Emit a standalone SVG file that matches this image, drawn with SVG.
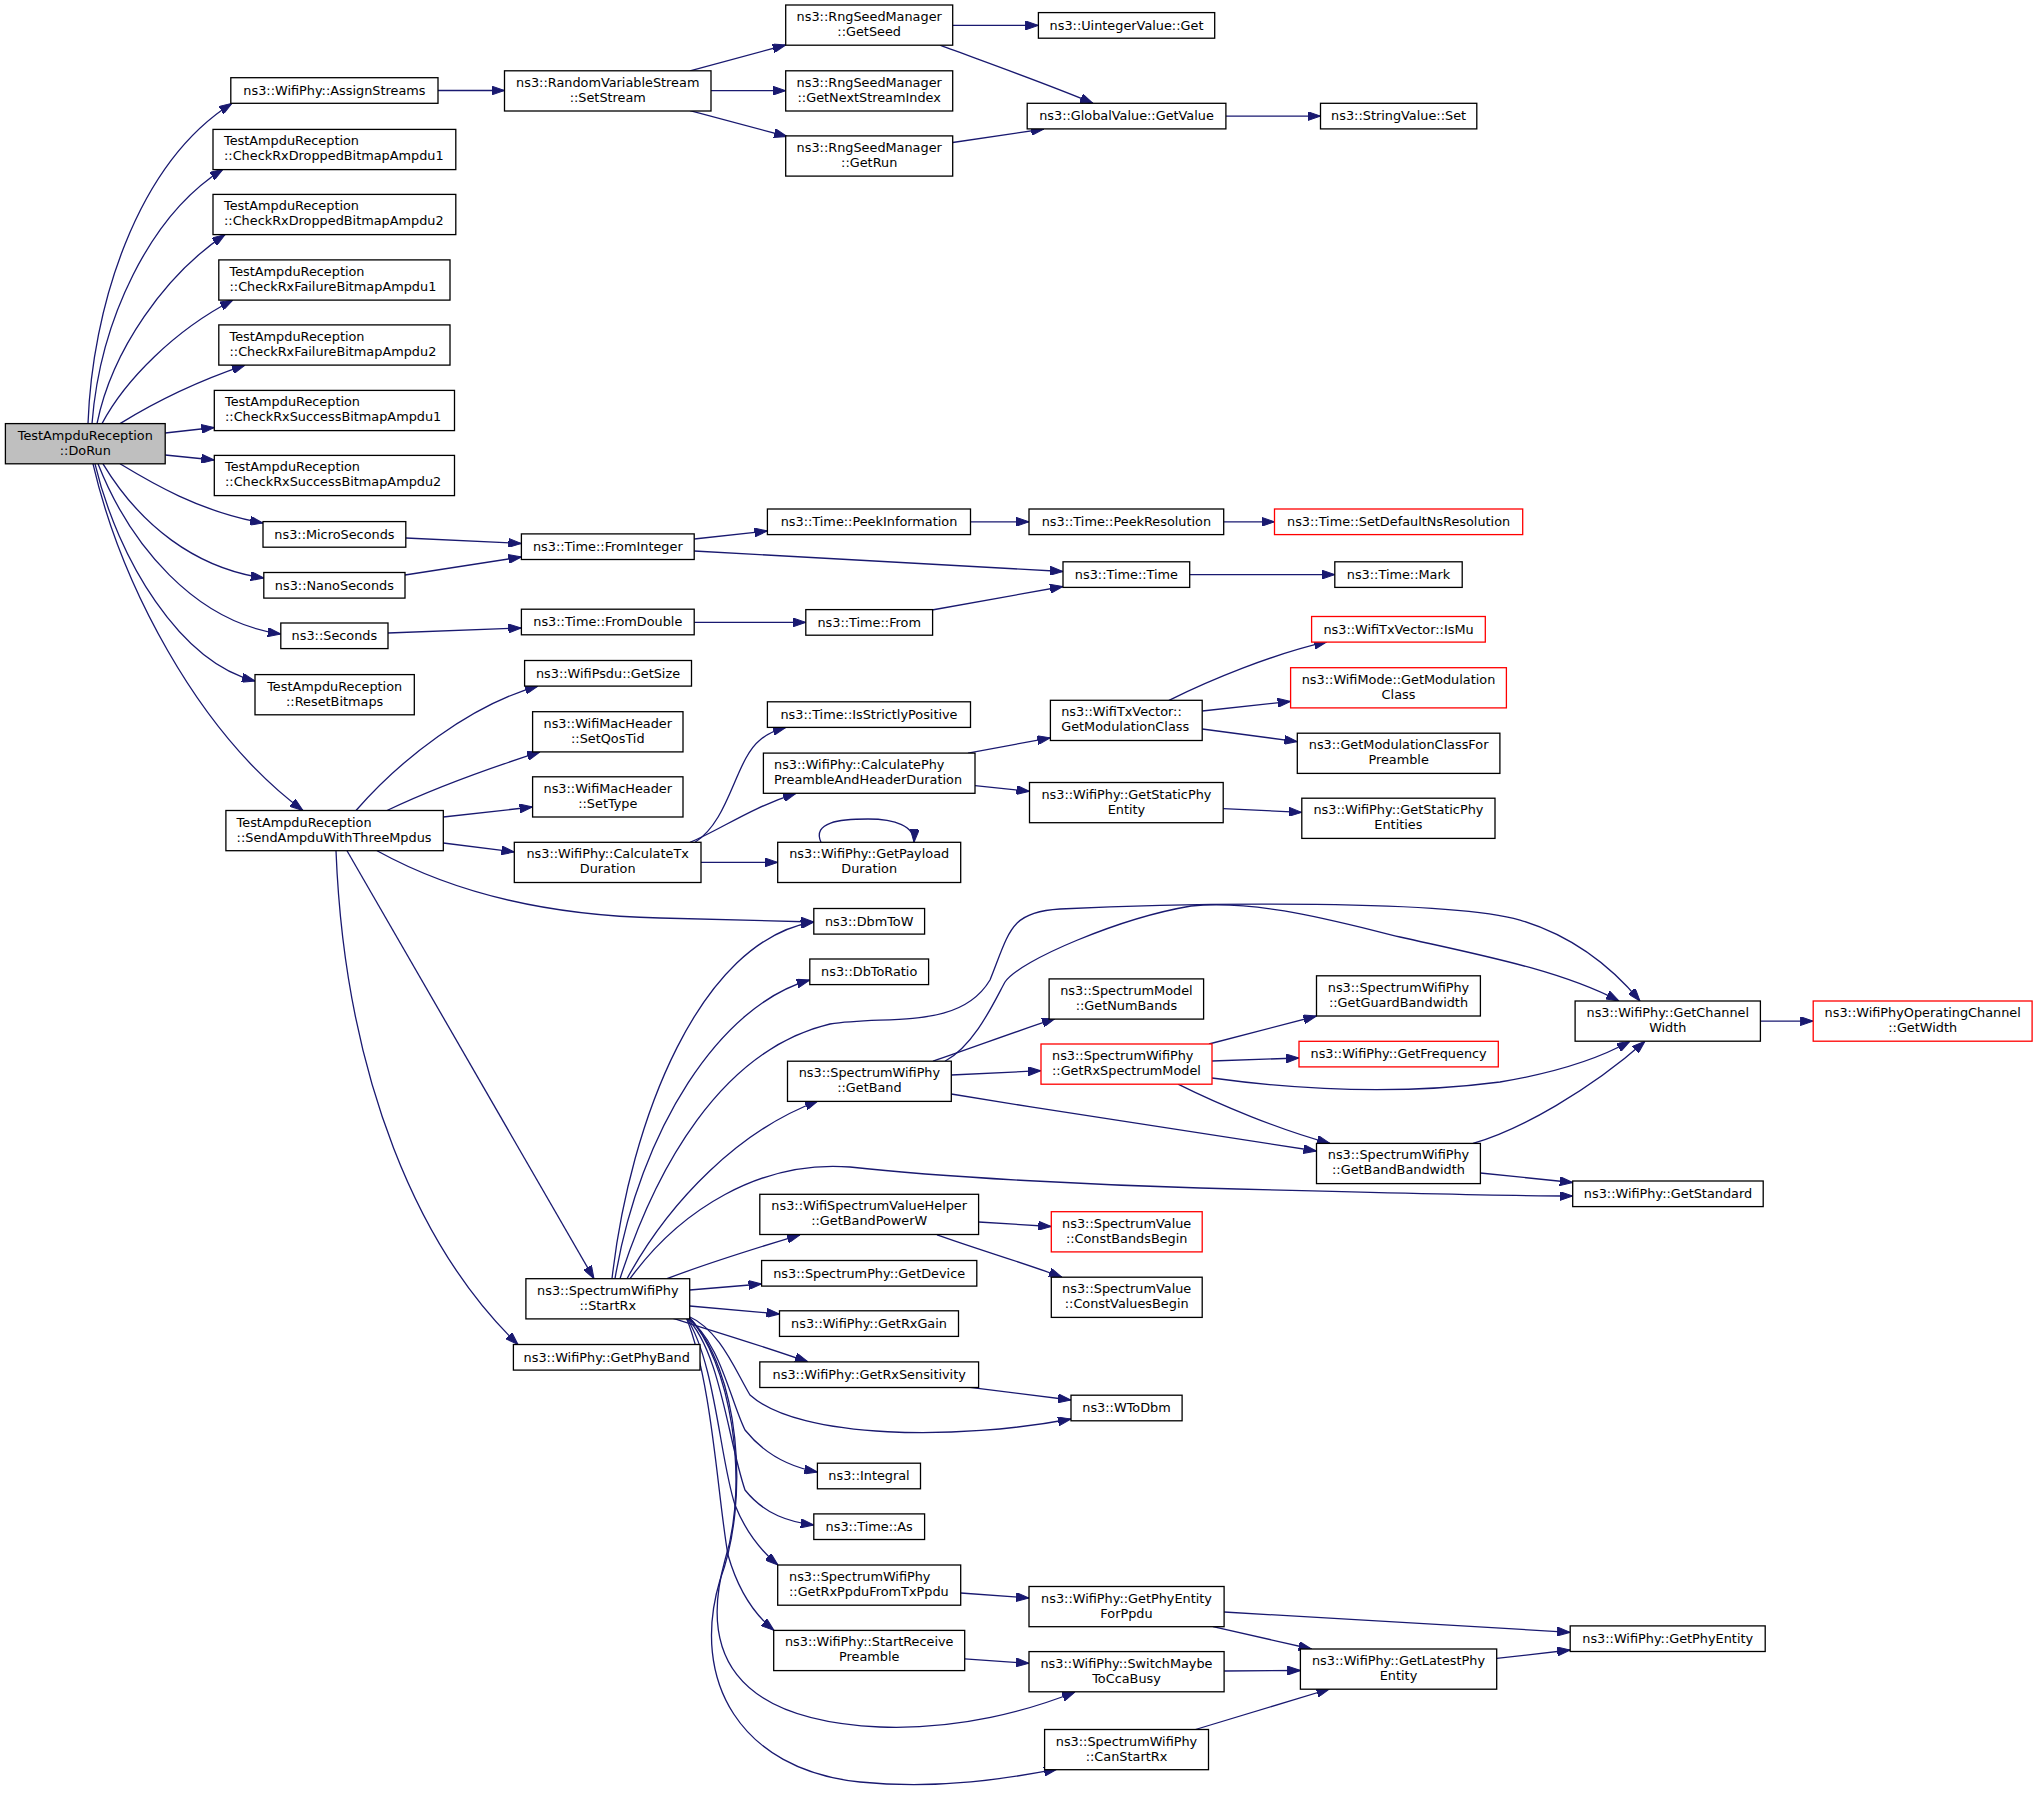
<svg xmlns="http://www.w3.org/2000/svg" width="2037" height="1793" viewBox="0 0 2037 1793">
<defs>
<marker id="a" markerUnits="userSpaceOnUse" viewBox="0 0 13 9" refX="13" refY="4.5" markerWidth="13" markerHeight="9" orient="auto">
<path d="M0,0 L13,4.5 L0,9 z" fill="#191970" stroke="#191970" stroke-width="1"/>
</marker>
<style>
.n rect{fill:#ffffff;stroke:#000000;stroke-width:1.3}
.r rect{stroke:#ff0000}
.g rect{fill:#bfbfbf}
text{font-family:"DejaVu Sans","Liberation Sans",sans-serif;font-size:12.85px;fill:#000000}
.c{text-anchor:middle}
#edges path{fill:none;stroke:#191970;stroke-width:1.3;marker-end:url(#a)}
</style>
</defs>
<rect x="0" y="0" width="2037" height="1793" fill="#ffffff"/>
<g id="edges">
<path d="M88,423.6 C92,310 135,165 232,103.3"/>
<path d="M92,423.6 C100,320 150,215 223,169.2"/>
<path d="M97,423.6 C112,350 165,275 225,234.6"/>
<path d="M102,423.6 C125,380 175,330 233,300"/>
<path d="M120,423.6 C150,405 195,382 245,365.1"/>
<path d="M165.2,433 L214.3,427.5"/>
<path d="M165.2,455 L214.3,460"/>
<path d="M120,463.8 C150,482 200,512 263,523"/>
<path d="M103,463.8 C140,525 195,568 263.8,578"/>
<path d="M98,463.8 C130,545 195,622 280.8,634"/>
<path d="M95,463.8 C118,560 180,662 255,681"/>
<path d="M93,463.8 C120,580 195,730 303,810.5"/>
<path d="M438,90.5 L504.5,90.5"/>
<path d="M690,70.8 L785.7,45"/>
<path d="M711,90.7 L785.7,90.7"/>
<path d="M690,110.6 L787,136.5"/>
<path d="M952.7,25.4 L1038.4,25.4"/>
<path d="M940,45.2 C985,62 1050,85 1093,103.3"/>
<path d="M952.7,142.5 L1044,129"/>
<path d="M1225.9,116.1 L1320.5,116.1"/>
<path d="M405.8,538 L521.4,543.5"/>
<path d="M405,575 L521.4,557"/>
<path d="M388,633 L521.4,628"/>
<path d="M694.2,539 L767.4,531"/>
<path d="M694.2,551 L1063,571.5"/>
<path d="M970.5,521.8 L1029,521.8"/>
<path d="M1223.7,521.8 L1274.5,521.8"/>
<path d="M1189.7,574.6 L1334.8,574.6"/>
<path d="M694.2,622.4 L805.8,622.4"/>
<path d="M932,610 L1063,586.5"/>
<path d="M356,810.5 C400,760 470,705 538,686.1"/>
<path d="M387,810.5 C430,790 490,768 540,751.9"/>
<path d="M443.3,817 L532.6,807"/>
<path d="M443.3,843 L514.3,852"/>
<path d="M377,850.7 C430,880 520,915 660,918 C720,920 780,921 813.8,922"/>
<path d="M347,850.7 L594,1278.7"/>
<path d="M336,850.7 C345,1080 420,1250 518,1344.5"/>
<path d="M695,842.3 C730,820 735,760 760,740 C768,733 776,730 786,727.4"/>
<path d="M690,842.3 C720,830 750,808 796,793.3"/>
<path d="M701,862.4 L777.7,862.4"/>
<path d="M821,842.3 C812,822 840,819 868,819 C895,819 915,826 914,842.3"/>
<path d="M968,753.1 L1050.4,737.8"/>
<path d="M975,785.6 L1029.5,791.3"/>
<path d="M1169,700.3 C1210,680 1270,655 1327,641.7"/>
<path d="M1202.2,711 L1290.6,701.4"/>
<path d="M1202.2,729 L1297.3,741.6"/>
<path d="M1223.2,808.6 L1301.8,812.4"/>
<path d="M612,1278.7 C630,1120 700,940 813.8,922"/>
<path d="M615,1278.7 C640,1130 720,1005 809.8,980"/>
<path d="M620,1278.7 C655,1170 720,1050 830,1024 C890,1015 960,1030 990,980 C1010,930 1010,912 1060,909 C1200,902 1450,900 1520,920 C1570,935 1610,965 1640,1001"/>
<path d="M945,1061.2 C975,1045 995,1000 1005,982 C1020,960 1120,918 1191,906 C1260,900 1330,920 1400,937 C1480,955 1560,970 1619,1001"/>
<path d="M627,1278.7 C670,1200 740,1130 818,1101"/>
<path d="M630,1278.7 C680,1210 760,1160 850,1167 C950,1178 1100,1185 1200,1188 C1350,1192 1500,1196 1572.7,1196"/>
<path d="M667,1278.7 C710,1262 760,1247 800,1234.8"/>
<path d="M689.7,1290 L761.6,1284"/>
<path d="M689.7,1306 L779.5,1314"/>
<path d="M673,1318.4 C710,1330 760,1345 808,1361.9"/>
<path d="M688,1316 C720,1330 735,1370 750,1395 C800,1440 960,1440 1071,1419"/>
<path d="M686,1317 C720,1340 730,1400 745,1430 C765,1455 790,1467 817.4,1472"/>
<path d="M686,1317 C720,1350 728,1440 745,1490 C765,1515 790,1522 813.8,1525"/>
<path d="M686,1317 C715,1360 720,1460 735,1505 C745,1530 760,1550 778,1565"/>
<path d="M686,1317 C712,1380 718,1500 728,1555 C738,1590 755,1615 774,1630.4"/>
<path d="M688,1316 C730,1360 750,1480 725,1560 C700,1650 730,1720 880,1727 C960,1730 1030,1710 1075,1692"/>
<path d="M688,1316 C740,1370 750,1500 720,1580 C690,1680 740,1770 860,1782 C940,1790 1010,1778 1057,1769.2"/>
<path d="M933,1061.2 C980,1045 1020,1030 1055,1018.7"/>
<path d="M951.3,1075 L1041,1070.7"/>
<path d="M951.3,1094 C1080,1115 1220,1137 1316.5,1151"/>
<path d="M1209,1044 L1316.5,1016"/>
<path d="M1212,1061 L1299,1058"/>
<path d="M1212,1078 C1300,1090 1400,1095 1500,1082 C1560,1072 1600,1058 1630,1041.3"/>
<path d="M1178,1084.1 C1220,1105 1280,1130 1330,1143.4"/>
<path d="M1473,1143.4 C1520,1130 1590,1090 1645,1041.3"/>
<path d="M1480.4,1173 L1572.7,1182.5"/>
<path d="M1760.4,1021.1 L1813.2,1021.1"/>
<path d="M978.6,1222 L1051.3,1226.5"/>
<path d="M937,1234.8 C980,1250 1030,1265 1062,1277.2"/>
<path d="M968,1387.2 L1071,1400"/>
<path d="M960.7,1593 L1029,1598"/>
<path d="M1224.1,1612 L1570.2,1632.3"/>
<path d="M1213,1626.6 L1311.6,1649"/>
<path d="M964.7,1658.8 L1029,1663.3"/>
<path d="M1224.1,1671 L1300.4,1670.5"/>
<path d="M1195.5,1729.5 L1329.5,1689"/>
<path d="M1496.7,1658.4 L1570.2,1650"/>
</g>
<g id="DoRun" class="n g"><rect x="5.4" y="423.6" width="159.8" height="40.2"/><text class="c" x="85.3" y="439.6">TestAmpduReception</text><text class="c" x="85.3" y="454.6">::DoRun</text></g>
<g id="AssignStreams" class="n"><rect x="230.8" y="77.7" width="207.2" height="25.6"/><text class="c" x="334.4" y="94.7">ns3::WifiPhy::AssignStreams</text></g>
<g id="CheckRxDropped1" class="n"><rect x="213" y="129.4" width="242.8" height="40.2"/><text x="224" y="145.4">TestAmpduReception</text><text x="224" y="160.4">::CheckRxDroppedBitmapAmpdu1</text></g>
<g id="CheckRxDropped2" class="n"><rect x="213" y="194.4" width="242.8" height="40.2"/><text x="224" y="210.4">TestAmpduReception</text><text x="224" y="225.4">::CheckRxDroppedBitmapAmpdu2</text></g>
<g id="CheckRxFailure1" class="n"><rect x="218.8" y="259.9" width="231.2" height="40.2"/><text x="229.5" y="275.9">TestAmpduReception</text><text x="229.5" y="290.9">::CheckRxFailureBitmapAmpdu1</text></g>
<g id="CheckRxFailure2" class="n"><rect x="218.8" y="324.9" width="231.2" height="40.2"/><text x="229.5" y="340.9">TestAmpduReception</text><text x="229.5" y="355.9">::CheckRxFailureBitmapAmpdu2</text></g>
<g id="CheckRxSuccess1" class="n"><rect x="214.3" y="390.4" width="240.2" height="40.2"/><text x="225" y="406.4">TestAmpduReception</text><text x="225" y="421.4">::CheckRxSuccessBitmapAmpdu1</text></g>
<g id="CheckRxSuccess2" class="n"><rect x="214.3" y="455.4" width="240.2" height="40.2"/><text x="225" y="471.4">TestAmpduReception</text><text x="225" y="486.4">::CheckRxSuccessBitmapAmpdu2</text></g>
<g id="MicroSeconds" class="n"><rect x="263" y="521.6" width="142.8" height="25.6"/><text class="c" x="334.4" y="538.6">ns3::MicroSeconds</text></g>
<g id="NanoSeconds" class="n"><rect x="263.8" y="572.5" width="141.2" height="25.6"/><text class="c" x="334.4" y="589.5">ns3::NanoSeconds</text></g>
<g id="Seconds" class="n"><rect x="280.8" y="623" width="107.2" height="25.6"/><text class="c" x="334.4" y="640">ns3::Seconds</text></g>
<g id="ResetBitmaps" class="n"><rect x="255" y="674.6" width="159.3" height="40.2"/><text class="c" x="334.65" y="690.6">TestAmpduReception</text><text class="c" x="334.65" y="705.6">::ResetBitmaps</text></g>
<g id="SendAmpdu" class="n"><rect x="225.9" y="810.5" width="217.4" height="40.2"/><text x="236.6" y="826.5">TestAmpduReception</text><text x="236.6" y="841.5">::SendAmpduWithThreeMpdus</text></g>
<g id="SetStream" class="n"><rect x="504.5" y="70.8" width="206.5" height="40.2"/><text class="c" x="607.75" y="86.8">ns3::RandomVariableStream</text><text class="c" x="607.75" y="101.8">::SetStream</text></g>
<g id="FromInteger" class="n"><rect x="521.4" y="533.9" width="172.8" height="25.6"/><text class="c" x="607.8" y="550.9">ns3::Time::FromInteger</text></g>
<g id="FromDouble" class="n"><rect x="521.4" y="609.2" width="172.8" height="25.6"/><text class="c" x="607.8" y="626.2">ns3::Time::FromDouble</text></g>
<g id="GetSize" class="n"><rect x="524.6" y="660.5" width="166.9" height="25.6"/><text class="c" x="608" y="677.5">ns3::WifiPsdu::GetSize</text></g>
<g id="SetQosTid" class="n"><rect x="532.6" y="711.7" width="150.4" height="40.2"/><text class="c" x="607.8" y="727.7">ns3::WifiMacHeader</text><text class="c" x="607.8" y="742.7">::SetQosTid</text></g>
<g id="SetType" class="n"><rect x="532.6" y="776.8" width="150.4" height="40.2"/><text class="c" x="607.8" y="792.8">ns3::WifiMacHeader</text><text class="c" x="607.8" y="807.8">::SetType</text></g>
<g id="CalculateTx" class="n"><rect x="514.3" y="842.3" width="186.7" height="40.2"/><text class="c" x="607.65" y="858.3">ns3::WifiPhy::CalculateTx</text><text class="c" x="607.65" y="873.3">Duration</text></g>
<g id="StartRx" class="n"><rect x="525.9" y="1278.7" width="163.8" height="40.2"/><text class="c" x="607.8" y="1294.7">ns3::SpectrumWifiPhy</text><text class="c" x="607.8" y="1309.7">::StartRx</text></g>
<g id="GetPhyBand" class="n"><rect x="513.4" y="1344.5" width="186.6" height="25.6"/><text class="c" x="606.7" y="1361.5">ns3::WifiPhy::GetPhyBand</text></g>
<g id="GetSeed" class="n"><rect x="785.7" y="5" width="167" height="40.2"/><text class="c" x="869.2" y="21">ns3::RngSeedManager</text><text class="c" x="869.2" y="36">::GetSeed</text></g>
<g id="GetNextStreamIndex" class="n"><rect x="785.7" y="70.8" width="167" height="40.2"/><text class="c" x="869.2" y="86.8">ns3::RngSeedManager</text><text class="c" x="869.2" y="101.8">::GetNextStreamIndex</text></g>
<g id="GetRun" class="n"><rect x="785.7" y="135.9" width="167" height="40.2"/><text class="c" x="869.2" y="151.9">ns3::RngSeedManager</text><text class="c" x="869.2" y="166.9">::GetRun</text></g>
<g id="PeekInformation" class="n"><rect x="767.4" y="509" width="203.1" height="25.6"/><text class="c" x="869" y="526">ns3::Time::PeekInformation</text></g>
<g id="TimeFrom" class="n"><rect x="805.8" y="609.6" width="126.8" height="25.6"/><text class="c" x="869.2" y="626.6">ns3::Time::From</text></g>
<g id="IsStrictlyPositive" class="n"><rect x="767.4" y="701.8" width="203.1" height="25.6"/><text class="c" x="869" y="718.8">ns3::Time::IsStrictlyPositive</text></g>
<g id="CalculatePhy" class="n"><rect x="763.4" y="753.1" width="211.6" height="40.2"/><text x="774" y="769.1">ns3::WifiPhy::CalculatePhy</text><text x="774" y="784.1">PreambleAndHeaderDuration</text></g>
<g id="GetPayload" class="n"><rect x="777.7" y="842.3" width="183" height="40.2"/><text class="c" x="869.2" y="858.3">ns3::WifiPhy::GetPayload</text><text class="c" x="869.2" y="873.3">Duration</text></g>
<g id="DbmToW" class="n"><rect x="813.8" y="908.5" width="110.8" height="25.6"/><text class="c" x="869.2" y="925.5">ns3::DbmToW</text></g>
<g id="DbToRatio" class="n"><rect x="809.8" y="959" width="118.8" height="25.6"/><text class="c" x="869.2" y="976">ns3::DbToRatio</text></g>
<g id="GetBand" class="n"><rect x="787.5" y="1061.2" width="163.8" height="40.2"/><text class="c" x="869.4" y="1077.2">ns3::SpectrumWifiPhy</text><text class="c" x="869.4" y="1092.2">::GetBand</text></g>
<g id="GetBandPowerW" class="n"><rect x="759.8" y="1194.3" width="218.8" height="40.2"/><text class="c" x="869.2" y="1210.3">ns3::WifiSpectrumValueHelper</text><text class="c" x="869.2" y="1225.3">::GetBandPowerW</text></g>
<g id="GetDevice" class="n"><rect x="761.6" y="1260.5" width="215.2" height="25.6"/><text class="c" x="869.2" y="1277.5">ns3::SpectrumPhy::GetDevice</text></g>
<g id="GetRxGain" class="n"><rect x="779.5" y="1310.8" width="179" height="25.6"/><text class="c" x="869" y="1327.8">ns3::WifiPhy::GetRxGain</text></g>
<g id="GetRxSensitivity" class="n"><rect x="759.8" y="1361.9" width="218.8" height="25.6"/><text class="c" x="869.2" y="1378.9">ns3::WifiPhy::GetRxSensitivity</text></g>
<g id="Integral" class="n"><rect x="817.4" y="1463.2" width="103.1" height="25.6"/><text class="c" x="869" y="1480.2">ns3::Integral</text></g>
<g id="TimeAs" class="n"><rect x="813.8" y="1513.9" width="110.8" height="25.6"/><text class="c" x="869.2" y="1530.9">ns3::Time::As</text></g>
<g id="GetRxPpduFromTxPpdu" class="n"><rect x="777.7" y="1565" width="183" height="40.2"/><text x="789" y="1581">ns3::SpectrumWifiPhy</text><text x="789" y="1596">::GetRxPpduFromTxPpdu</text></g>
<g id="StartReceivePreamble" class="n"><rect x="773.7" y="1630.4" width="191" height="40.2"/><text class="c" x="869.2" y="1646.4">ns3::WifiPhy::StartReceive</text><text class="c" x="869.2" y="1661.4">Preamble</text></g>
<g id="UintegerValueGet" class="n"><rect x="1038.4" y="12.6" width="176.3" height="25.6"/><text class="c" x="1126.5" y="29.6">ns3::UintegerValue::Get</text></g>
<g id="GlobalValueGetValue" class="n"><rect x="1027.2" y="103.3" width="198.7" height="25.6"/><text class="c" x="1126.5" y="120.3">ns3::GlobalValue::GetValue</text></g>
<g id="PeekResolution" class="n"><rect x="1029" y="509" width="194.7" height="25.6"/><text class="c" x="1126.4" y="526">ns3::Time::PeekResolution</text></g>
<g id="TimeTime" class="n"><rect x="1063" y="561.8" width="126.7" height="25.6"/><text class="c" x="1126.4" y="578.8">ns3::Time::Time</text></g>
<g id="GetModulationClass" class="n"><rect x="1050.4" y="700.3" width="151.8" height="40.2"/><text x="1061.2" y="716.3">ns3::WifiTxVector::</text><text x="1061.2" y="731.3">GetModulationClass</text></g>
<g id="GetStaticPhyEntity" class="n"><rect x="1029.5" y="782.5" width="193.7" height="40.2"/><text class="c" x="1126.4" y="798.5">ns3::WifiPhy::GetStaticPhy</text><text class="c" x="1126.4" y="813.5">Entity</text></g>
<g id="GetNumBands" class="n"><rect x="1049.1" y="978.9" width="154.5" height="40.2"/><text class="c" x="1126.4" y="994.9">ns3::SpectrumModel</text><text class="c" x="1126.4" y="1009.9">::GetNumBands</text></g>
<g id="GetRxSpectrumModel" class="n r"><rect x="1041" y="1044" width="171" height="40.2"/><text x="1052" y="1060">ns3::SpectrumWifiPhy</text><text x="1052" y="1075">::GetRxSpectrumModel</text></g>
<g id="ConstBandsBegin" class="n r"><rect x="1051.3" y="1211.7" width="150.9" height="40.2"/><text class="c" x="1126.7" y="1227.7">ns3::SpectrumValue</text><text class="c" x="1126.7" y="1242.7">::ConstBandsBegin</text></g>
<g id="ConstValuesBegin" class="n"><rect x="1051.3" y="1277.2" width="150.9" height="40.2"/><text class="c" x="1126.7" y="1293.2">ns3::SpectrumValue</text><text class="c" x="1126.7" y="1308.2">::ConstValuesBegin</text></g>
<g id="WToDbm" class="n"><rect x="1071" y="1395.2" width="111.1" height="25.6"/><text class="c" x="1126.5" y="1412.2">ns3::WToDbm</text></g>
<g id="GetPhyEntityForPpdu" class="n"><rect x="1029" y="1586.5" width="195.1" height="40.2"/><text class="c" x="1126.5" y="1602.5">ns3::WifiPhy::GetPhyEntity</text><text class="c" x="1126.5" y="1617.5">ForPpdu</text></g>
<g id="SwitchMaybeToCcaBusy" class="n"><rect x="1029" y="1651.6" width="195.1" height="40.2"/><text class="c" x="1126.5" y="1667.6">ns3::WifiPhy::SwitchMaybe</text><text class="c" x="1126.5" y="1682.6">ToCcaBusy</text></g>
<g id="CanStartRx" class="n"><rect x="1044.6" y="1729.5" width="163.9" height="40.2"/><text class="c" x="1126.5" y="1745.5">ns3::SpectrumWifiPhy</text><text class="c" x="1126.5" y="1760.5">::CanStartRx</text></g>
<g id="StringValueSet" class="n"><rect x="1320.5" y="103.3" width="156.3" height="25.6"/><text class="c" x="1398.6" y="120.3">ns3::StringValue::Set</text></g>
<g id="SetDefaultNsResolution" class="n r"><rect x="1274.5" y="509" width="248.2" height="25.6"/><text class="c" x="1398.6" y="526">ns3::Time::SetDefaultNsResolution</text></g>
<g id="TimeMark" class="n"><rect x="1334.8" y="561.8" width="127.4" height="25.6"/><text class="c" x="1398.5" y="578.8">ns3::Time::Mark</text></g>
<g id="IsMu" class="n r"><rect x="1311.6" y="616.5" width="173.7" height="25.6"/><text class="c" x="1398.5" y="633.5">ns3::WifiTxVector::IsMu</text></g>
<g id="WifiModeGetModulationClass" class="n r"><rect x="1290.6" y="667.7" width="215.8" height="40.2"/><text class="c" x="1398.5" y="683.7">ns3::WifiMode::GetModulation</text><text class="c" x="1398.5" y="698.7">Class</text></g>
<g id="GetModulationClassForPreamble" class="n"><rect x="1297.3" y="733.2" width="202.6" height="40.2"/><text class="c" x="1398.6" y="749.2">ns3::GetModulationClassFor</text><text class="c" x="1398.6" y="764.2">Preamble</text></g>
<g id="GetStaticPhyEntities" class="n"><rect x="1301.8" y="798.2" width="193.2" height="40.2"/><text class="c" x="1398.4" y="814.2">ns3::WifiPhy::GetStaticPhy</text><text class="c" x="1398.4" y="829.2">Entities</text></g>
<g id="GetGuardBandwidth" class="n"><rect x="1316.5" y="975.8" width="163.9" height="40.2"/><text class="c" x="1398.5" y="991.8">ns3::SpectrumWifiPhy</text><text class="c" x="1398.5" y="1006.8">::GetGuardBandwidth</text></g>
<g id="GetFrequency" class="n r"><rect x="1299" y="1041.3" width="199.3" height="25.6"/><text class="c" x="1398.6" y="1058.3">ns3::WifiPhy::GetFrequency</text></g>
<g id="GetBandBandwidth" class="n"><rect x="1316.5" y="1143.4" width="163.9" height="40.2"/><text class="c" x="1398.5" y="1159.4">ns3::SpectrumWifiPhy</text><text class="c" x="1398.5" y="1174.4">::GetBandBandwidth</text></g>
<g id="GetLatestPhyEntity" class="n"><rect x="1300.4" y="1649" width="196.3" height="40.2"/><text class="c" x="1398.5" y="1665">ns3::WifiPhy::GetLatestPhy</text><text class="c" x="1398.5" y="1680">Entity</text></g>
<g id="GetChannelWidth" class="n"><rect x="1575.1" y="1001" width="185.3" height="40.2"/><text class="c" x="1667.8" y="1017">ns3::WifiPhy::GetChannel</text><text class="c" x="1667.8" y="1032">Width</text></g>
<g id="GetStandard" class="n"><rect x="1572.7" y="1181" width="190.5" height="25.6"/><text class="c" x="1668" y="1198">ns3::WifiPhy::GetStandard</text></g>
<g id="GetPhyEntity" class="n"><rect x="1570.2" y="1625.9" width="195" height="25.6"/><text class="c" x="1667.7" y="1642.9">ns3::WifiPhy::GetPhyEntity</text></g>
<g id="GetWidth" class="n r"><rect x="1813.2" y="1001" width="218.9" height="40.2"/><text class="c" x="1922.7" y="1017">ns3::WifiPhyOperatingChannel</text><text class="c" x="1922.7" y="1032">::GetWidth</text></g>
</svg>
